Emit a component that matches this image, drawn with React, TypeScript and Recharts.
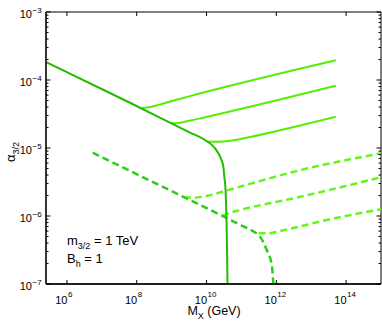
import React from 'react';
import { ComposedChart, Line, XAxis, YAxis, ReferenceArea } from 'recharts';

// Axis ranges
const X_MIN = Math.pow(10, 5.4);
const X_MAX = 1e15;
const Y_MIN = 1e-7;
const Y_MAX = 1e-3;

// Tick values
const xTicks = [1e6, 1e8, 1e10, 1e12, 1e14];
const yMajor = [1e-7, 1e-6, 1e-5, 1e-4, 1e-3];
const yTicks = [
  1e-7, 2e-7, 3e-7, 4e-7, 5e-7, 6e-7, 7e-7, 8e-7, 9e-7,
  1e-6, 2e-6, 3e-6, 4e-6, 5e-6, 6e-6, 7e-6, 8e-6, 9e-6,
  1e-5, 2e-5, 3e-5, 4e-5, 5e-5, 6e-5, 7e-5, 8e-5, 9e-5,
  1e-4, 2e-4, 3e-4, 4e-4, 5e-4, 6e-4, 7e-4, 8e-4, 9e-4,
  1e-3,
];

// Solid main curve (M_X, alpha)
const mainSolidM = [2.5e5, 6.4e7, 3.37e9, 9.06e9, 1.754e10, 2.44e10, 3.03e10, 3.24e10, 3.51e10, 3.74e10, 3.87e10, 4.0e10];
const mainSolidA = [1.84e-4, 4.63e-5, 1.68e-5, 1.31e-5, 9.91e-6, 7.45e-6, 5.31e-6, 3.78e-6, 2.41e-6, 8.73e-7, 3.16e-7, 1.0e-7];

// Solid branches
const branch1M = [1.26e8, 2.0e8, 3.98e8, 1.0e9, 3.16e9, 5.07e13];
const branch1A = [3.89e-5, 3.94e-5, 4.27e-5, 4.9e-5, 5.75e-5, 1.95e-4];
const branch2M = [1.0e9, 1.58e9, 3.16e9, 7.94e9, 5.07e13];
const branch2A = [2.31e-5, 2.34e-5, 2.51e-5, 2.79e-5, 8.24e-5];
const branch3M = [1.0e10, 1.74e10, 3.16e10, 7.94e10, 1.78e11, 5.07e13];
const branch3A = [1.25e-5, 1.24e-5, 1.25e-5, 1.33e-5, 1.45e-5, 2.88e-5];

// Dashed main curve
const mainDashM = [5.46e6, 2.42e9, 2.97e10, 9.14e10, 2.0e11, 3.42e11, 5.32e11, 7.41e11, 8.22e11];
const mainDashA = [8.53e-6, 1.86e-6, 9.93e-7, 7.41e-7, 6.1e-7, 4.97e-7, 3.16e-7, 1.9e-7, 1.0e-7];

// Dashed branches
const dBranch1M = [2.24e9, 4.47e9, 1.0e10, 4.06e10, 4.95e12, 1e15];
const dBranch1A = [1.87e-6, 1.86e-6, 1.97e-6, 2.4e-6, 4.74e-6, 8.36e-6];
const dBranch2M = [2.82e10, 3.98e10, 9.14e10, 4.95e12, 1e15];
const dBranch2A = [1.0e-6, 1.08e-6, 1.22e-6, 1.92e-6, 3.71e-6];
const dBranch3M = [3.09e11, 5.62e11, 1.58e12, 2.8e13, 1e15];
const dBranch3A = [5.57e-7, 5.56e-7, 6.17e-7, 8.73e-7, 1.26e-6];

const toRows = (m: number[], a: number[]) => m.map((v, i) => ({ m: v, a: a[i] }));

const PLOT = { left: 46, top: 12, right: 381, bottom: 284 };
const FONT = '"Liberation Sans", Arial, Helvetica, sans-serif';

const XTick = (props: any) => {
  const { x, payload } = props;
  const exp = Math.round(Math.log10(payload.value));
  return (
    <g>
      <line x1={x} x2={x} y1={PLOT.bottom} y2={PLOT.bottom - 4} stroke="#000" strokeWidth={1} />
      <line x1={x} x2={x} y1={PLOT.top} y2={PLOT.top + 4} stroke="#000" strokeWidth={1} />
      <text x={x + 0.5} y={304} textAnchor="end" fontSize={11} fontFamily={FONT} fill="#000">10</text>
      <text x={x + 1} y={297} textAnchor="start" fontSize={8} fontFamily={FONT} fill="#000">{exp}</text>
    </g>
  );
};

const YTick = (props: any) => {
  const { y, payload } = props;
  const v = payload.value;
  const major = yMajor.some((t) => Math.abs(t - v) / t < 1e-6);
  const len = major ? 4.5 : 2.5;
  const exp = Math.round(Math.log10(v));
  return (
    <g>
      <line x1={PLOT.left} x2={PLOT.left + len} y1={y} y2={y} stroke="#000" strokeWidth={1} />
      <line x1={PLOT.right} x2={PLOT.right - len} y1={y} y2={y} stroke="#000" strokeWidth={1} />
      {major && (
        <>
          <text x={32} y={y + 6} textAnchor="end" fontSize={11} fontFamily={FONT} fill="#000">10</text>
          <text x={32.5} y={y + 1} textAnchor="start" fontSize={8} fontFamily={FONT} fill="#000">{'\u2212' + Math.abs(exp)}</text>
        </>
      )}
    </g>
  );
};

const SOLID_MAIN = '#22bb00';
const SOLID_BRANCH = '#55ee00';
const DASH_MAIN = '#2ecc1a';
const DASH_BRANCH = '#66f51a';

export default function App() {
  return (
    <div style={{ position: 'absolute', left: 0, top: 0, width: 382, height: 328, background: '#fff' }}>
      <ComposedChart width={382} height={328} margin={{ top: 12, right: 1, bottom: 0, left: 0 }}>
        <XAxis
          dataKey="m"
          type="number"
          scale="log"
          domain={[X_MIN, X_MAX]}
          allowDataOverflow
          ticks={xTicks}
          interval={0}
          tick={<XTick />}
          tickSize={0}
          tickMargin={0}
          tickLine={false}
          height={44}
          axisLine={{ stroke: '#000', strokeWidth: 1.5 }}
        />
        <YAxis
          dataKey="a"
          type="number"
          scale="log"
          domain={[Y_MIN, Y_MAX]}
          allowDataOverflow
          ticks={yTicks}
          interval={0}
          tick={<YTick />}
          tickSize={0}
          tickMargin={0}
          tickLine={false}
          width={46}
          axisLine={{ stroke: '#000', strokeWidth: 1.2 }}
        />
        <ReferenceArea x1={X_MIN} x2={X_MAX} y1={Y_MIN} y2={Y_MAX} fill="none" stroke="#000" strokeWidth={1} ifOverflow="visible" />
        <Line data={toRows(dBranch1M, dBranch1A)} dataKey="a" type="monotone" stroke={DASH_BRANCH} strokeWidth={2.5} strokeDasharray="7 4" dot={false} isAnimationActive={false} />
        <Line data={toRows(dBranch2M, dBranch2A)} dataKey="a" type="monotone" stroke={DASH_BRANCH} strokeWidth={2.5} strokeDasharray="7 4" dot={false} isAnimationActive={false} />
        <Line data={toRows(dBranch3M, dBranch3A)} dataKey="a" type="monotone" stroke={DASH_BRANCH} strokeWidth={2.5} strokeDasharray="7 4" dot={false} isAnimationActive={false} />
        <Line data={toRows(mainDashM, mainDashA)} dataKey="a" type="monotone" stroke={DASH_MAIN} strokeWidth={2.5} strokeDasharray="7 4" dot={false} isAnimationActive={false} />
        <Line data={toRows(branch1M, branch1A)} dataKey="a" type="monotone" stroke={SOLID_BRANCH} strokeWidth={2} dot={false} isAnimationActive={false} />
        <Line data={toRows(branch2M, branch2A)} dataKey="a" type="monotone" stroke={SOLID_BRANCH} strokeWidth={2} dot={false} isAnimationActive={false} />
        <Line data={toRows(branch3M, branch3A)} dataKey="a" type="monotone" stroke={SOLID_BRANCH} strokeWidth={2} dot={false} isAnimationActive={false} />
        <Line data={toRows(mainSolidM, mainSolidA)} dataKey="a" type="monotone" stroke={SOLID_MAIN} strokeWidth={2} dot={false} isAnimationActive={false} />
      </ComposedChart>
      <svg width={382} height={328} style={{ position: 'absolute', left: 0, top: 0, pointerEvents: 'none' }}>
        <text x={214} y={315} textAnchor="middle" fontSize={12.5} fontFamily={FONT} fill="#000">
          M<tspan dy={4} fontSize={9}>X</tspan><tspan dy={-4}> (GeV)</tspan>
        </text>
        <text transform="translate(15,152) rotate(-90)" textAnchor="middle" fontSize={13} fontFamily={FONT} fill="#000">
          α<tspan dy={4} fontSize={9}>3/2</tspan>
        </text>
        <text x={67} y={245} fontSize={13} fontFamily={FONT} fill="#000">
          m<tspan dy={4} fontSize={9}>3/2</tspan><tspan dy={-4}> = 1 TeV</tspan>
        </text>
        <text x={67} y={263} fontSize={13} fontFamily={FONT} fill="#000">
          B<tspan dy={4} fontSize={9}>h</tspan><tspan dy={-4}> = 1</tspan>
        </text>
      </svg>
    </div>
  );
}
